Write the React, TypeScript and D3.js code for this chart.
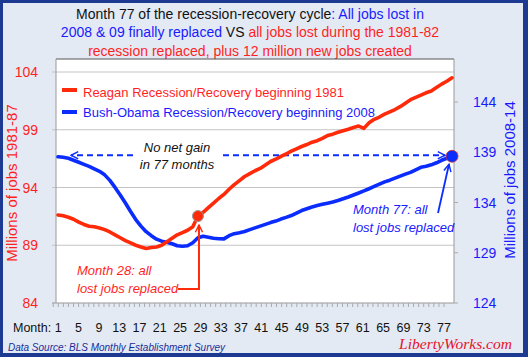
import React from 'react';
import * as d3 from 'd3';

// Months 1..77 of each recession-recovery cycle
const monthLabels = [1, 5, 9, 13, 17, 21, 25, 29, 33, 37, 41, 45, 49, 53, 57, 61, 65, 69, 73, 77];
const leftTicks = [84, 89, 94, 99, 104];
const rightTicks = [124, 129, 134, 139, 144];

// Reagan recession/recovery beginning 1981 (millions of jobs, left axis)
const reagan = [
  91.62, 91.55, 91.42, 91.25, 91.0, 90.8, 90.65, 90.6, 90.5, 90.35,
  90.15, 89.9, 89.65, 89.4, 89.2, 89.0, 88.85, 88.72, 88.8, 88.85,
  89.0, 89.3, 89.6, 89.9, 90.1, 90.3, 90.6, 91.53, 91.85, 92.25,
  92.65, 93.05, 93.4, 93.85, 94.25, 94.6, 94.95, 95.2, 95.45, 95.65,
  95.95, 96.25, 96.45, 96.7, 96.9, 97.15, 97.35, 97.55, 97.72, 97.92,
  98.05, 98.25, 98.5, 98.62, 98.78, 98.92, 99.05, 99.2, 99.32, 99.12,
  99.6, 99.9, 100.1, 100.35, 100.55, 100.75, 101.0, 101.3, 101.6, 101.8,
  102.0, 102.2, 102.35, 102.65, 102.95, 103.2, 103.5,
];

// Bush-Obama recession/recovery beginning 2008 (millions of jobs, right axis)
const bushObama = [
  138.55, 138.5, 138.4, 138.2, 138.0, 137.8, 137.6, 137.35, 137.1, 136.75,
  136.2, 135.5, 134.75, 133.95, 133.1, 132.3, 131.65, 131.1, 130.7, 130.35,
  130.15, 130.05, 129.9, 129.7, 129.65, 129.7, 130.0, 130.5, 130.65, 130.55,
  130.45, 130.4, 130.38, 130.7, 130.9, 131.0, 131.12, 131.3, 131.48, 131.65,
  131.82, 132.0, 132.15, 132.35, 132.52, 132.7, 132.95, 133.2, 133.38, 133.55,
  133.7, 133.82, 133.93, 134.05, 134.2, 134.38, 134.55, 134.75, 134.95, 135.15,
  135.37, 135.6, 135.82, 136.05, 136.22, 136.42, 136.62, 136.82, 137.0, 137.25,
  137.5, 137.6, 137.75, 137.95, 138.2, 138.4, 138.6,
];

const redMonth = 28;
const blueMonth = 77;
const noGainLevel = 138.7;

const RED = '#ff1f1f';
const RED_LINE = '#ff2a0a';
const BLUE = '#1a1aff';
const BLUE_LINE = '#0a2cff';
const SANS = "'Liberation Sans', Arial, sans-serif";

export default function App() {
  const x = d3.scaleLinear().domain([1, 77]).range([58, 452]);
  const xl = d3.scaleLinear().domain([1, 77]).range([58.3, 444]);
  const yL = d3.scaleLinear().domain([84, 104]).range([303, 72]);
  const yR = d3.scaleLinear().domain([124, 144]).range([303, 102]);

  const lineL = d3.line<number>().x((_, i) => x(i + 1)).y((d) => yL(d));
  const lineR = d3.line<number>().x((_, i) => x(i + 1)).y((d) => yR(d));

  const plot = { l: 56, r: 454, t: 59, b: 303 };
  const minorTicks = d3.range(0, 78);

  const redDot = { x: x(redMonth), y: yL(reagan[redMonth - 1]) };
  const blueDot = { x: x(blueMonth), y: yR(bushObama[blueMonth - 1]) };
  const dashY = yR(noGainLevel);

  return (
    <svg width={530} height={358} style={{ position: 'absolute', left: 0, top: 0 }} fontFamily={SANS}>
      <defs>
        <marker id="arrB" viewBox="0 0 10 10" refX="9" refY="5" markerWidth="9" markerHeight="9"
          markerUnits="userSpaceOnUse" orient="auto-start-reverse">
          <path d="M1,1 L9,5 L1,9" fill="none" stroke={BLUE_LINE} strokeWidth={1.6} />
        </marker>
        <marker id="arrR" viewBox="0 0 10 10" refX="9" refY="5" markerWidth="9" markerHeight="9"
          markerUnits="userSpaceOnUse" orient="auto-start-reverse">
          <path d="M1,1 L9,5 L1,9" fill="none" stroke={RED_LINE} strokeWidth={1.6} />
        </marker>
      </defs>

      {/* frame */}
      <rect x={0} y={0} width={530} height={358} fill="#ffffff" />
      <rect x={0} y={0} width={528} height={357} fill="#1c3a92" />
      <rect x={3} y={3} width={520} height={350} fill="#e3eaf4" />

      {/* title */}
      <text x={250} y={18.5} textAnchor="middle" fontSize={14} fill="#111">
        <tspan>Month 77 of the recession-recovery cycle</tspan>
        <tspan fill={BLUE}>: All jobs lost in</tspan>
      </text>
      <text x={250} y={37} textAnchor="middle" fontSize={14} fill="#111">
        <tspan fill={BLUE}>2008 &amp; 09 finally replaced</tspan>
        <tspan> VS </tspan>
        <tspan fill={RED}>all jobs lost during the 1981-82</tspan>
      </text>
      <text x={250} y={55.5} textAnchor="middle" fontSize={14} fill={RED}>
        recession replaced, plus 12 million new jobs created
      </text>

      {/* plot area */}
      <rect x={plot.l} y={plot.t} width={plot.r - plot.l} height={plot.b - plot.t} fill="#ffffff" />
      {leftTicks.slice(1).map((t) => (
        <line key={t} x1={plot.l - 4} x2={plot.r} y1={yL(t)} y2={yL(t)} stroke="#c4c4c4" strokeWidth={1} />
      ))}
      <line x1={plot.l} x2={plot.r} y1={plot.t} y2={plot.t} stroke="#555" strokeWidth={1} />
      <line x1={plot.l} x2={plot.l} y1={plot.t} y2={plot.b} stroke="#999" strokeWidth={1} />
      <line x1={plot.r} x2={plot.r} y1={plot.t} y2={plot.b} stroke="#999" strokeWidth={1} />
      <line x1={plot.l - 4} x2={plot.r} y1={plot.b} y2={plot.b} stroke="#999" strokeWidth={1} />
      {minorTicks.map((m) => (
        <line key={m} x1={xl(m)} x2={xl(m)} y1={plot.b} y2={plot.b + 4} stroke="#aaa" strokeWidth={1} />
      ))}
      {rightTicks.map((t) => (
        <line key={t} x1={plot.r} x2={plot.r + 4} y1={yR(t)} y2={yR(t)} stroke="#aaa" strokeWidth={1} />
      ))}

      {/* axis labels */}
      {leftTicks.map((t) => (
        <text key={t} x={38} y={yL(t) + 5} textAnchor="end" fontSize={14} fill={RED}>{t}</text>
      ))}
      {rightTicks.map((t) => (
        <text key={t} x={473} y={yR(t) + 5} textAnchor="start" fontSize={14} fill={BLUE}>{t}</text>
      ))}
      <text transform={`translate(16.5,183) rotate(-90)`} textAnchor="middle" fontSize={15} fill={RED}>
        Millions of jobs 1981-87
      </text>
      <text transform={`translate(514.5,180) rotate(-90)`} textAnchor="middle" fontSize={15} fill={BLUE}>
        Millions of jobs 2008-14
      </text>
      <text x={13} y={332} fontSize={12.5} fill="#111">Month:</text>
      {monthLabels.map((m) => (
        <text key={m} x={xl(m)} y={332} textAnchor="middle" fontSize={12.5} fill="#111">
          {m}
        </text>
      ))}

      {/* legend */}
      <line x1={62} x2={77} y1={90} y2={90} stroke={RED_LINE} strokeWidth={4} />
      <text x={83} y={96.5} fontSize={13} fill={RED}>Reagan Recession/Recovery beginning 1981</text>
      <line x1={62} x2={77} y1={112} y2={112} stroke={BLUE_LINE} strokeWidth={4} />
      <text x={83} y={116.5} fontSize={13} fill={BLUE}>Bush-Obama Recession/Recovery beginning 2008</text>

      {/* no net gain dashed arrow */}
      <line x1={133} x2={71} y1={dashY} y2={dashY} stroke={BLUE_LINE} strokeWidth={2}
        strokeDasharray="6,4" markerEnd="url(#arrB)" />
      <line x1={223} x2={445} y1={dashY} y2={dashY} stroke={BLUE_LINE} strokeWidth={2}
        strokeDasharray="6,4" markerEnd="url(#arrB)" />
      <text x={177} y={152} textAnchor="middle" fontSize={13} fontStyle="italic" fill="#111">No net gain</text>
      <text x={177} y={169} textAnchor="middle" fontSize={13} fontStyle="italic" fill="#111">in 77 months</text>

      {/* series */}
      <path d={lineR(bushObama) || ''} fill="none" stroke={BLUE_LINE} strokeWidth={3.6}
        strokeLinejoin="round" strokeLinecap="round" />
      <path d={lineL(reagan) || ''} fill="none" stroke={RED_LINE} strokeWidth={3.6}
        strokeLinejoin="round" strokeLinecap="round" />

      {/* red annotation */}
      <polyline points={`178,289 ${redDot.x + 1},289 ${redDot.x + 1},${redDot.y + 9}`} fill="none"
        stroke={RED_LINE} strokeWidth={2} markerEnd="url(#arrR)" />
      <circle cx={redDot.x} cy={redDot.y} r={5.5} fill={RED_LINE} stroke="#999" strokeWidth={1} />
      <text x={77} y={275} fontSize={13} fontStyle="italic" fill={RED}>Month 28: all</text>
      <text x={77} y={293} fontSize={13} fontStyle="italic" fill={RED}>lost jobs replaced</text>

      {/* blue annotation */}
      <line x1={438} y1={213} x2={blueDot.x - 3} y2={blueDot.y + 8} stroke={BLUE_LINE} strokeWidth={1.8}
        markerEnd="url(#arrB)" />
      <circle cx={blueDot.x} cy={blueDot.y} r={6} fill={BLUE_LINE} stroke="#c33" strokeWidth={0.8} />
      <text x={353} y={214} fontSize={13} fontStyle="italic" fill={BLUE}>Month 77: all</text>
      <text x={353} y={232} fontSize={13} fontStyle="italic" fill={BLUE}>lost jobs replaced</text>

      {/* footer */}
      <text x={8} y={351} fontSize={11} fontStyle="italic" fill="#1a2a9a" textLength={217} lengthAdjust="spacingAndGlyphs">
        Data Source: BLS Monthly Establishment Survey
      </text>
      <text x={399} y={349} fontSize={15} fontStyle="italic" fontFamily="'Liberation Serif', 'DejaVu Serif', serif"
        fill="#e8102a" textLength={113} lengthAdjust="spacingAndGlyphs">
        LibertyWorks.com
      </text>
    </svg>
  );
}
